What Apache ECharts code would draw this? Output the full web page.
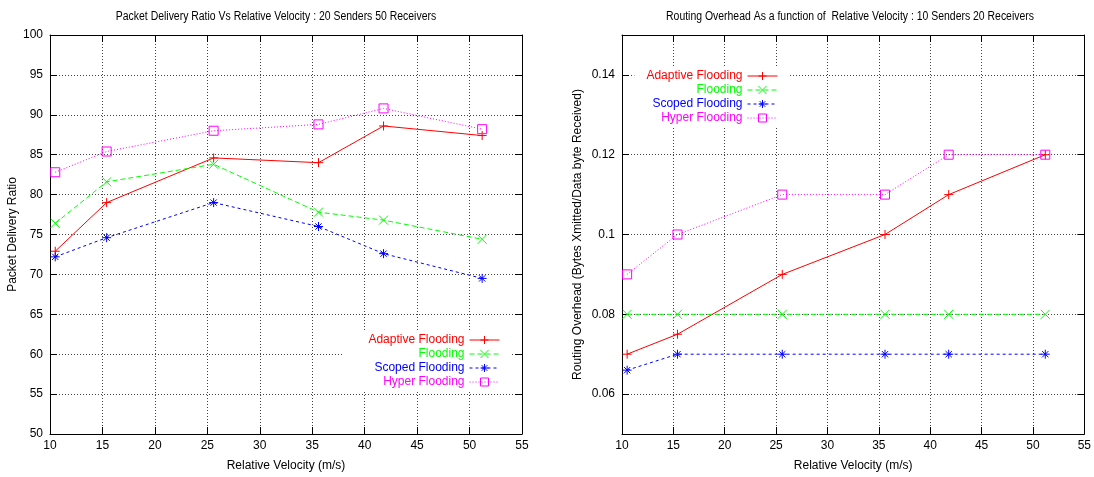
<!DOCTYPE html>
<html>
<head>
<meta charset="utf-8">
<script src="https://cdn.jsdelivr.net/npm/echarts@6/dist/echarts.min.js"></script>
<style>
  html, body { margin: 0; background: #fff; }
  #chart { width: 1094px; height: 477px; }
</style>
</head>
<body>
<div id="chart"></div>
<script>
// relative velocity (m/s), same sample points in both plots
const velocity = [10.5, 15.4, 25.6, 35.6, 41.8, 51.2];
const seriesNames = ['Adaptive Flooding', 'Flooding', 'Scoped Flooding', 'Hyper Flooding'];

// left plot: packet delivery ratio, 20 senders 50 receivers
const pdrAdaptive = [72.9, 79.0, 84.6, 84.0, 88.6, 87.4];
const pdrFlooding = [76.4, 81.6, 83.8, 77.8, 76.8, 74.4];
const pdrScoped = [72.2, 74.6, 79.0, 76.0, 72.6, 69.5];
const pdrHyper = [82.8, 85.4, 88.0, 88.8, 90.8, 88.2];

// right plot: routing overhead, 10 senders 20 receivers
const ohAdaptive = [0.07, 0.075, 0.09, 0.10, 0.11, 0.12];
const ohFlooding = [0.08, 0.08, 0.08, 0.08, 0.08, 0.08];
const ohScoped = [0.066, 0.07, 0.07, 0.07, 0.07, 0.07];
const ohHyper = [0.09, 0.10, 0.11, 0.11, 0.12, 0.12];

const ohTicks = [0.06, 0.08, 0.1, 0.12, 0.14];

const titles = [
  'Packet Delivery Ratio Vs Relative Velocity : 20 Senders 50 Receivers',
  'Routing Overhead As a function of  Relative Velocity : 10 Senders 20 Receivers'
];

const FONT = '"Liberation Sans", Arial, sans-serif';
const colors = ['#ff0000', '#00ff00', '#0000ff', '#ff00ff'];
const dashes = ['solid', [5, 3], [3, 3], [1, 2]];
// gnuplot-like point types: + x * square
const marks = [
  'path://M0,5L10,5M5,0L5,10',
  'path://M0,0L10,10M10,0L0,10',
  'path://M0,5L10,5M5,0L5,10M1.5,1.5L8.5,8.5M8.5,1.5L1.5,8.5',
  'path://M0,0L10,0L10,10L0,10Z'
];

const chart = echarts.init(document.getElementById('chart'));

function makeSeries(values, i, gi) {
  return {
    name: seriesNames[i],
    type: 'line',
    xAxisIndex: gi * 2,
    yAxisIndex: gi * 2,
    data: velocity.map((v, j) => [v, values[j]]),
    symbol: marks[i],
    symbolSize: 9,
    lineStyle: { color: colors[i], width: 1, type: dashes[i] },
    itemStyle: { color: i === 3 ? 'transparent' : colors[i], borderColor: colors[i], borderWidth: 1 },
    emphasis: { disabled: true },
    z: 3
  };
}

const tick = { inside: true, length: 7, lineStyle: { color: '#000', width: 1 } };
const line = { onZero: false, lineStyle: { color: '#000', width: 1 } };
const label = { color: '#000', fontSize: 12, fontFamily: FONT };
const grid = { show: true, lineStyle: { color: '#444', width: 1, type: [1, 2] } };
const nameStyle = { color: '#000', fontSize: 12, fontFamily: FONT };

function xAxes(gi) {
  const base = { type: 'value', gridIndex: gi, min: 10, max: 55, interval: 5, axisLine: line, axisTick: tick };
  return [
    Object.assign({}, base, {
      position: 'bottom',
      name: 'Relative Velocity (m/s)', nameLocation: 'middle', nameGap: 26, nameTextStyle: nameStyle,
      axisLabel: Object.assign({ margin: 6 }, label),
      splitLine: grid
    }),
    Object.assign({}, base, { position: 'top', axisLabel: { show: false }, splitLine: { show: false } })
  ];
}

function yAxes(gi, opts, name, gap) {
  const base = Object.assign({ type: 'value', gridIndex: gi, axisLine: line }, opts);
  return [
    Object.assign({}, base, {
      position: 'left',
      name: name, nameLocation: 'middle', nameGap: gap, nameTextStyle: nameStyle,
      axisTick: Object.assign({}, tick, opts.ticks ? { customValues: opts.ticks } : {}),
      axisLabel: Object.assign({ margin: 7 }, label, opts.ticks ? { customValues: opts.ticks } : {}),
      splitLine: grid
    }),
    Object.assign({}, base, {
      position: 'right',
      axisTick: Object.assign({}, tick, opts.ticks ? { customValues: opts.ticks } : {}),
      axisLabel: { show: false },
      splitLine: { show: false }
    })
  ];
}

function legend(right, top, padLeft) {
  return {
    orient: 'vertical', align: 'right', right: right, top: top,
    itemWidth: 30, itemHeight: 10, itemGap: 2,
    padding: [2, 10, 2, padLeft], backgroundColor: '#fff',
    selectedMode: false,
    lineStyle: { width: 1 },
    itemStyle: { borderWidth: 1 },
    textStyle: { fontSize: 12, fontFamily: FONT },
    data: seriesNames.map((n, i) => ({ name: n, textStyle: { color: colors[i] } }))
  };
}

// plot titles: gnuplot's Helvetica is narrower, so squeeze the text a little
function titleText(text, cx) {
  return {
    type: 'text', x: cx, y: 17, scaleX: 0.87,
    style: { text: text, fill: '#000', fontSize: 12, fontFamily: FONT, align: 'center', verticalAlign: 'middle' }
  };
}

chart.setOption({
  animation: false,
  backgroundColor: '#fff',
  graphic: [titleText(titles[0], 276), titleText(titles[1], 850)],
  legend: [legend(584, 332, 26), legend(306, 68, 12)],
  grid: [
    { left: 50, right: 572, top: 35, bottom: 42 },
    { left: 622, right: 8, top: 35, bottom: 42 }
  ],
  xAxis: xAxes(0).concat(xAxes(1)),
  yAxis: yAxes(0, { min: 50, max: 100, interval: 5 }, 'Packet Delivery Ratio', 29)
    .concat(yAxes(1, { min: 0.05, max: 0.15, ticks: ohTicks }, 'Routing Overhead (Bytes Xmitted/Data byte Received)', 38)),
  series: [
    makeSeries(pdrAdaptive, 0, 0),
    makeSeries(pdrFlooding, 1, 0),
    makeSeries(pdrScoped, 2, 0),
    makeSeries(pdrHyper, 3, 0),
    makeSeries(ohAdaptive, 0, 1),
    makeSeries(ohFlooding, 1, 1),
    makeSeries(ohScoped, 2, 1),
    makeSeries(ohHyper, 3, 1)
  ]
});
</script>
</body>
</html>
